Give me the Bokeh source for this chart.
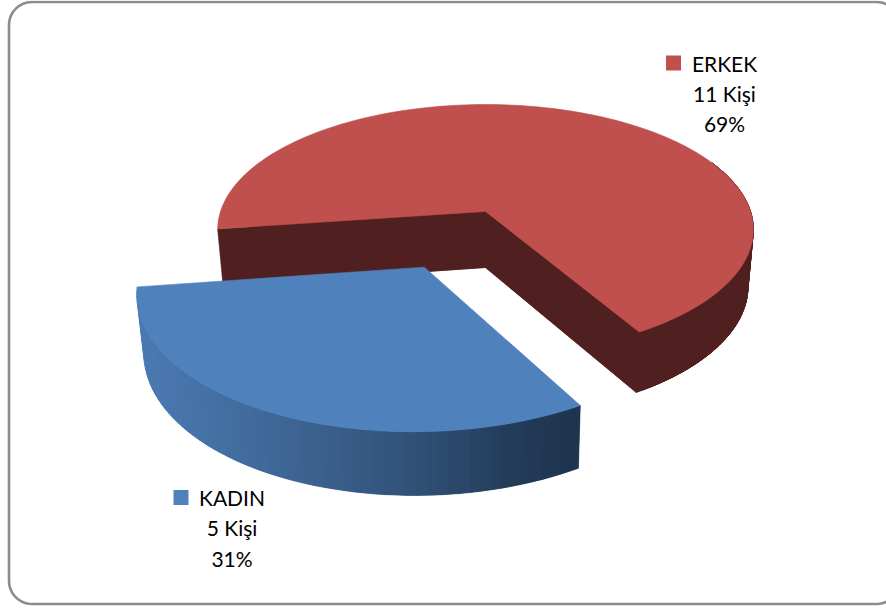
import math
from bokeh.plotting import figure
from bokeh.models import Range1d, ColumnDataSource
from bokeh.core.properties import value
from bokeh.embed import file_html
from bokeh.resources import INLINE

categories = ["ERKEK", "KADIN"]
counts = [11, 5]
count_labels = ["11 Kişi", "5 Kişi"]
percent_labels = ["69%", "31%"]
top_colors = ["#c0504d", "#4f81bd"]

W, H = 886, 608
# view geometry of the tilted pie, in page pixels
CX, CY = 485.0, 211.0
RX, RY = 265.0, 122.5
PERSP = 0.145
DEPTH = 56.0
LOW_SX, LOW_SY = 0.98, 1.035
START = 30.5           # degrees, where the first slice begins
EXPLODE = 0.478        # offset of the KADIN slice, in radii
EXPLODE_TILT = 1.2     # degrees

def project(u, v):
    w = 1 - PERSP * v
    return CX + RX * u / w, CY + RY * v / w

def lower(pt):
    return CX + LOW_SX * (pt[0] - CX), CY + DEPTH + LOW_SY * (pt[1] - CY)

def rim(a0, a1, off, n):
    out = []
    for i in range(n + 1):
        t = math.radians(a0 + (a1 - a0) * i / n)
        out.append(project(off[0] + math.sin(t), off[1] + math.cos(t)))
    return out

def mix(c0, c1, t):
    return "#%02x%02x%02x" % tuple(round(a + (b - a) * t) for a, b in zip(c0, c1))

total = sum(counts)
sweep_red = 360.0 * counts[0] / total
sweep_blue = 360.0 * counts[1] / total
a_red = (START, START + sweep_red)
a_blue = (a_red[1], a_red[1] + sweep_blue)
mid = math.radians((a_blue[0] + a_blue[1]) / 2 - EXPLODE_TILT)
off_blue = (EXPLODE * math.sin(mid), EXPLODE * math.cos(mid))

p = figure(width=W, height=H, x_range=Range1d(0, W), y_range=Range1d(H, 0),
           output_backend="svg", toolbar_location=None, min_border=0,
           outline_line_color=None, background_fill_color="white",
           border_fill_color="white",
           styles={"position": "absolute", "left": "0px", "top": "0px"})
p.axis.visible = False
p.grid.visible = False

def poly(points, color, lw=0.6):
    p.patch([q[0] for q in points], [q[1] for q in points], fill_color=color,
            line_color=color, line_width=lw)

# chart frame with rounded corners
L, T, R_, B, r = 8.5, 1.5, 899.0, 603.5, 23.0
frame = []
for cx_, cy_, a0 in [(L + r, T + r, 180), (R_ - r, T + r, 270), (R_ - r, B - r, 0), (L + r, B - r, 90)]:
    for i in range(13):
        t = math.radians(a0 + 90 * i / 12)
        frame.append((cx_ + r * math.cos(t), cy_ + r * math.sin(t)))
p.patch([q[0] for q in frame], [q[1] for q in frame], fill_color="white",
        line_color="#8c8c8c", line_width=2.6)

# ERKEK: dark walls, then top
red_dark = "#4f201f"
apex = project(0, 0)
red_rim = rim(a_red[0], a_red[1], (0, 0), 160)
poly([lower(q) for q in [apex] + red_rim], red_dark)
poly([apex, red_rim[0], lower(red_rim[0]), lower(apex)], red_dark)
poly([apex, red_rim[-1], lower(red_rim[-1]), lower(apex)], red_dark)
front = rim(a_red[0], 115, (0, 0), 50)
for i in range(len(front) - 1):
    seg = front[i:i + 3]
    poly(seg + [lower(q) for q in reversed(seg)], red_dark, 1.0)
poly([apex] + red_rim, top_colors[0])

# KADIN: shaded wall bands (each overlaps the next, so no seams), then top
apex_b = project(*off_blue)
blue_rim = rim(a_blue[0], a_blue[1], off_blue, 60)
stops = [(0.0, (0x4b, 0x7a, 0xb2)), (0.3, (0x3f, 0x68, 0x98)), (0.6, (0x32, 0x53, 0x7a)),
         (0.85, (0x23, 0x3c, 0x59)), (1.0, (0x1e, 0x34, 0x4e))]
x0, x1 = blue_rim[0][0], blue_rim[-1][0]
for i in range(len(blue_rim) - 1):
    a, b = blue_rim[i], blue_rim[i + 1]
    seg = blue_rim[i:i + 3]
    t = min(1.0, max(0.0, ((a[0] + b[0]) / 2 - x0) / (x1 - x0)))
    col = mix(stops[0][1], stops[1][1], 0)
    for (t0, c0), (t1, c1) in zip(stops[:-1], stops[1:]):
        if t0 <= t <= t1:
            col = mix(c0, c1, (t - t0) / (t1 - t0))
            break
    poly(seg + [lower(q) for q in reversed(seg)], col, 0.3)
poly([apex_b] + blue_rim, top_colors[1])

# labels
label_x = [724.0, 231.5]
key_x = [673.0, 180.5]
label_y = [62.5, 497.0]
step = 30.3
for i, name in enumerate(categories):
    xc = [label_x[i]] * 3
    yc = [label_y[i] + k * step for k in range(3)]
    src = ColumnDataSource(dict(x=xc, y=yc, t=[name, count_labels[i], percent_labels[i]]))
    p.text("x", "y", text="t", source=src, text_align="center", text_baseline="middle",
           text_font=value("Lato"), text_font_size="21px", text_color="#000000")
    p.scatter([key_x[i]], [label_y[i] + 0.0], marker="square", size=15,
              fill_color=top_colors[i], line_color=None)

open("out.html", "w").write(file_html(p, INLINE))
